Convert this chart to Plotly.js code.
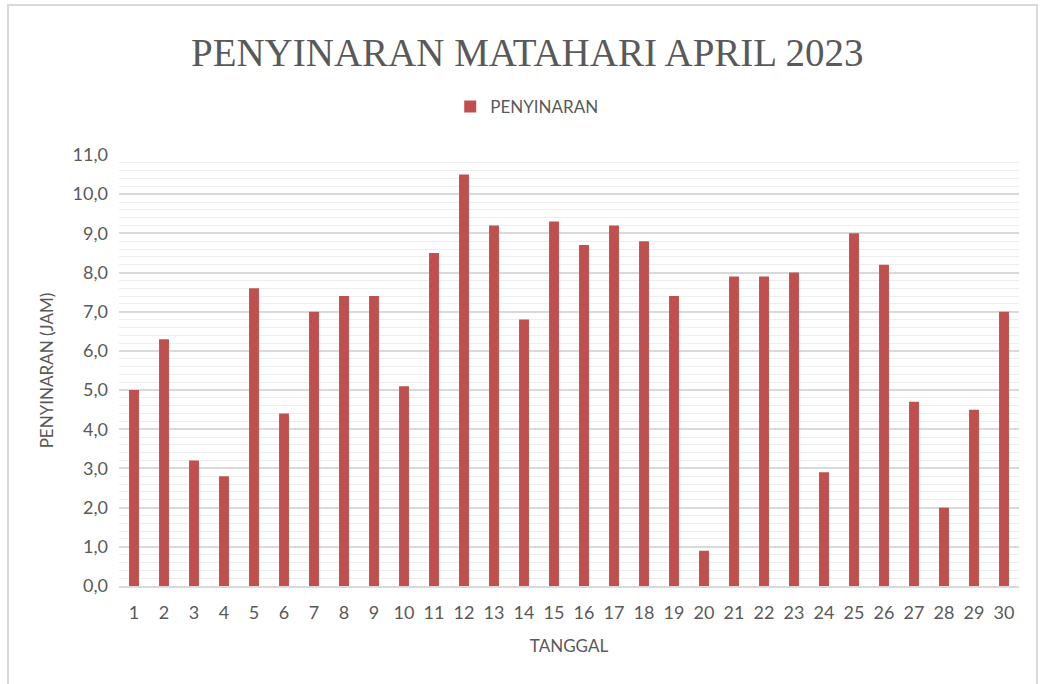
<!DOCTYPE html>
<html>
<head>
<meta charset="utf-8">
<script src="https://cdn.plot.ly/plotly-3.0.1.min.js"></script>
<style>
  html, body { margin: 0; padding: 0; background: #ffffff; }
  #frame { position: absolute; left: 7px; top: 4px; width: 1031px; height: 690px; border: 2px solid #d9d9d9; box-sizing: border-box; }
  #chart { position: absolute; left: 0; top: 0; width: 1044px; height: 684px; }
</style>
</head>
<body>
<div id="frame"></div>
<div id="chart"></div>
<script>
const days = ["1","2","3","4","5","6","7","8","9","10","11","12","13","14","15","16","17","18","19","20","21","22","23","24","25","26","27","28","29","30"];
const sunshineHours = [5.0,6.3,3.2,2.8,7.6,4.4,7.0,7.4,7.4,5.1,8.5,10.5,9.2,6.8,9.3,8.7,9.2,8.8,7.4,0.9,7.9,7.9,8.0,2.9,9.0,8.2,4.7,2.0,4.5,7.0];
const seriesName = "PENYINARAN";
const chartTitle = "PENYINARAN MATAHARI APRIL 2023";
const xTitle = "TANGGAL";
const yTitle = "PENYINARAN (JAM)";

const textColor = "#595959";
const sans = "Lato, 'Open Sans', sans-serif";

const trace = {
  type: "bar",
  x: days,
  y: sunshineHours,
  name: seriesName,
  marker: { color: "#C0504D" },
  hoverinfo: "x+y"
};

const layout = {
  width: 1044,
  height: 684,
  paper_bgcolor: "rgba(0,0,0,0)",
  plot_bgcolor: "rgba(0,0,0,0)",
  separators: ",.",
  margin: { l: 119, r: 25, t: 155, b: 98 },
  bargap: 0.67,
  showlegend: true,
  title: {
    text: chartTitle,
    font: { family: "'Liberation Serif', serif", size: 39, color: textColor },
    xref: "container", x: 0.505, xanchor: "center",
    yref: "container", y: 0.924, yanchor: "middle"
  },
  legend: {
    orientation: "h",
    xref: "container", x: 0.505, xanchor: "center",
    yref: "container", y: 0.8436, yanchor: "middle",
    font: { family: sans, size: 17, color: textColor },
    itemwidth: 30
  },
  xaxis: {
    type: "category",
    title: { text: xTitle, font: { family: sans, size: 17, color: textColor }, standoff: 18 },
    tickfont: { family: sans, size: 18, color: textColor },
    showgrid: false,
    showline: true,
    linecolor: "#D9D9D9",
    linewidth: 1.5,
    ticks: "",
    ticklabelstandoff: 10,
    fixedrange: true
  },
  yaxis: {
    title: { text: yTitle, font: { family: sans, size: 17, color: textColor }, standoff: 14 },
    range: [0, 11],
    dtick: 1,
    tick0: 0,
    tickformat: ".1f",
    tickfont: { family: sans, size: 18, color: textColor },
    showgrid: true,
    gridcolor: "#D9D9D9",
    gridwidth: 1.5,
    zeroline: false,
    showline: false,
    ticks: "",
    ticklabelstandoff: 10,
    minor: { dtick: 0.2, showgrid: true, gridcolor: "#EEEEEE", gridwidth: 1 },
    fixedrange: true
  }
};

Plotly.newPlot("chart", [trace], layout, { displayModeBar: false, staticPlot: false });
</script>
</body>
</html>
